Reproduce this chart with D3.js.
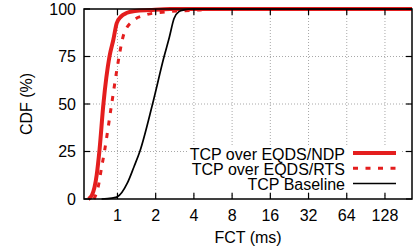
<!DOCTYPE html>
<html>
<head>
<meta charset="utf-8">
<script src="https://cdn.jsdelivr.net/npm/d3@7"></script>
<style>
  body { margin: 0; background: #fff; }
  text { font-family: "Liberation Sans", Arial, Helvetica, sans-serif; fill: #000; }
</style>
</head>
<body>
<script>
// x ticks (ms) and y ticks (%)
const xTicks = [1, 2, 4, 8, 16, 32, 64, 128];
const yTicks = [0, 25, 50, 75, 100];

// series: FCT (ms) vs CDF (%)
const ndpMs  = [0.59, 0.63, 0.686, 0.722, 0.775, 0.865, 0.927, 0.986, 1.065, 1.19, 1.37, 1.8, 2.6, 209];
const ndpPct = [0, 2, 12.6, 25.8, 50, 75, 83.7, 92.5, 96, 98, 99, 99.5, 100, 100];

const rtsMs  = [0.653, 0.715, 0.737, 0.79, 0.90, 1.03, 1.091, 1.125, 1.35, 1.6, 1.88, 4.47, 8, 209];
const rtsPct = [0, 8.4, 13.7, 25, 50, 75, 83.7, 87, 94.2, 96.5, 97.7, 99.5, 100, 100];

const baseMs  = [0.75, 0.905, 1.0, 1.195, 1.35, 1.5, 1.89, 2.33, 2.56, 2.79, 3.05, 3.34, 3.87, 209];
const basePct = [0, 0.5, 1.2, 8.3, 17, 25, 50, 75, 85, 95, 98.6, 99.5, 100, 100];

const seriesNames = ["TCP over EQDS/NDP", "TCP over EQDS/RTS", "TCP Baseline"];

const width = 415, height = 252;
const margin = {top: 9, right: 3, bottom: 53, left: 84};
const red = "#e41e1e";

const svg = d3.select("body").append("svg")
    .attr("width", width)
    .attr("height", height);

const x = d3.scaleLog().base(2)
    .domain([0.545, 209])
    .range([margin.left, width - margin.right]);

const y = d3.scaleLinear()
    .domain([0, 100])
    .range([height - margin.bottom, margin.top]);

const x0 = margin.left, x1 = width - margin.right;
const y0 = height - margin.bottom, y1 = margin.top;

// dotted grid
const grid = svg.append("g")
    .attr("stroke", "#a8a8a8")
    .attr("stroke-width", 1)
    .attr("stroke-dasharray", "1,2");
grid.selectAll(".gx").data(xTicks).enter().append("line")
    .attr("x1", d => x(d)).attr("x2", d => x(d))
    .attr("y1", y0).attr("y2", y1);
grid.selectAll(".gy").data(yTicks.slice(1, -1)).enter().append("line")
    .attr("x1", x0).attr("x2", x1)
    .attr("y1", d => y(d)).attr("y2", d => y(d));

// legend background (opaque, like gnuplot)
svg.append("rect")
    .attr("x", 189).attr("y", 145)
    .attr("width", 212).attr("height", 47)
    .attr("fill", "#fff");

const line = d3.line()
    .x(d => x(d[0]))
    .y(d => y(d[1]))
    .curve(d3.curveMonotoneX);

const series = [
    {ms: ndpMs, pct: ndpPct, color: red, width: 4, dash: null},
    {ms: rtsMs, pct: rtsPct, color: red, width: 3, dash: "5,7.5"},
    {ms: baseMs, pct: basePct, color: "#000", width: 1.7, dash: null}
];

series.forEach(function (s) {
    svg.append("path")
        .datum(d3.zip(s.ms, s.pct))
        .attr("fill", "none")
        .attr("stroke", s.color)
        .attr("stroke-width", s.width)
        .attr("stroke-dasharray", s.dash)
        .attr("d", line);
});

// border
svg.append("rect")
    .attr("x", x0).attr("y", y1)
    .attr("width", x1 - x0).attr("height", y0 - y1)
    .attr("fill", "none")
    .attr("stroke", "#000")
    .attr("stroke-width", 1.5);

// inward ticks on all four sides
const tickLen = 6;
const ticks = svg.append("g").attr("stroke", "#000").attr("stroke-width", 1.2);
xTicks.forEach(function (t) {
    ticks.append("line").attr("x1", x(t)).attr("x2", x(t)).attr("y1", y0).attr("y2", y0 - tickLen);
    ticks.append("line").attr("x1", x(t)).attr("x2", x(t)).attr("y1", y1).attr("y2", y1 + tickLen);
});
yTicks.forEach(function (t) {
    ticks.append("line").attr("x1", x0).attr("x2", x0 + tickLen).attr("y1", y(t)).attr("y2", y(t));
    ticks.append("line").attr("x1", x1).attr("x2", x1 - tickLen).attr("y1", y(t)).attr("y2", y(t));
});

// tick labels
const fs = "16px";
svg.append("g").selectAll("text").data(xTicks).enter().append("text")
    .attr("x", d => x(d))
    .attr("y", 221)
    .attr("text-anchor", "middle")
    .style("font-size", fs)
    .text(d => d);

svg.append("g").selectAll("text").data(yTicks).enter().append("text")
    .attr("x", 76)
    .attr("y", d => y(d))
    .attr("dy", "0.36em")
    .attr("text-anchor", "end")
    .style("font-size", fs)
    .text(d => d);

// axis titles
svg.append("text")
    .attr("x", (x0 + x1) / 2)
    .attr("y", 243)
    .attr("text-anchor", "middle")
    .style("font-size", fs)
    .text("FCT (ms)");

svg.append("text")
    .attr("transform", "translate(32," + ((y0 + y1) / 2) + ") rotate(-90)")
    .attr("text-anchor", "middle")
    .style("font-size", fs)
    .text("CDF (%)");

// legend
const legendRows = [153, 168.3, 183.5];
series.forEach(function (s, i) {
    svg.append("text")
        .attr("x", 345)
        .attr("y", legendRows[i] + 6.5)
        .attr("text-anchor", "end")
        .style("font-size", fs)
        .text(seriesNames[i]);
    svg.append("line")
        .attr("x1", 353).attr("x2", 396)
        .attr("y1", legendRows[i]).attr("y2", legendRows[i])
        .attr("stroke", s.color)
        .attr("stroke-width", i === 2 ? 1.4 : s.width)
        .attr("stroke-dasharray", s.dash);
});
</script>
</body>
</html>
